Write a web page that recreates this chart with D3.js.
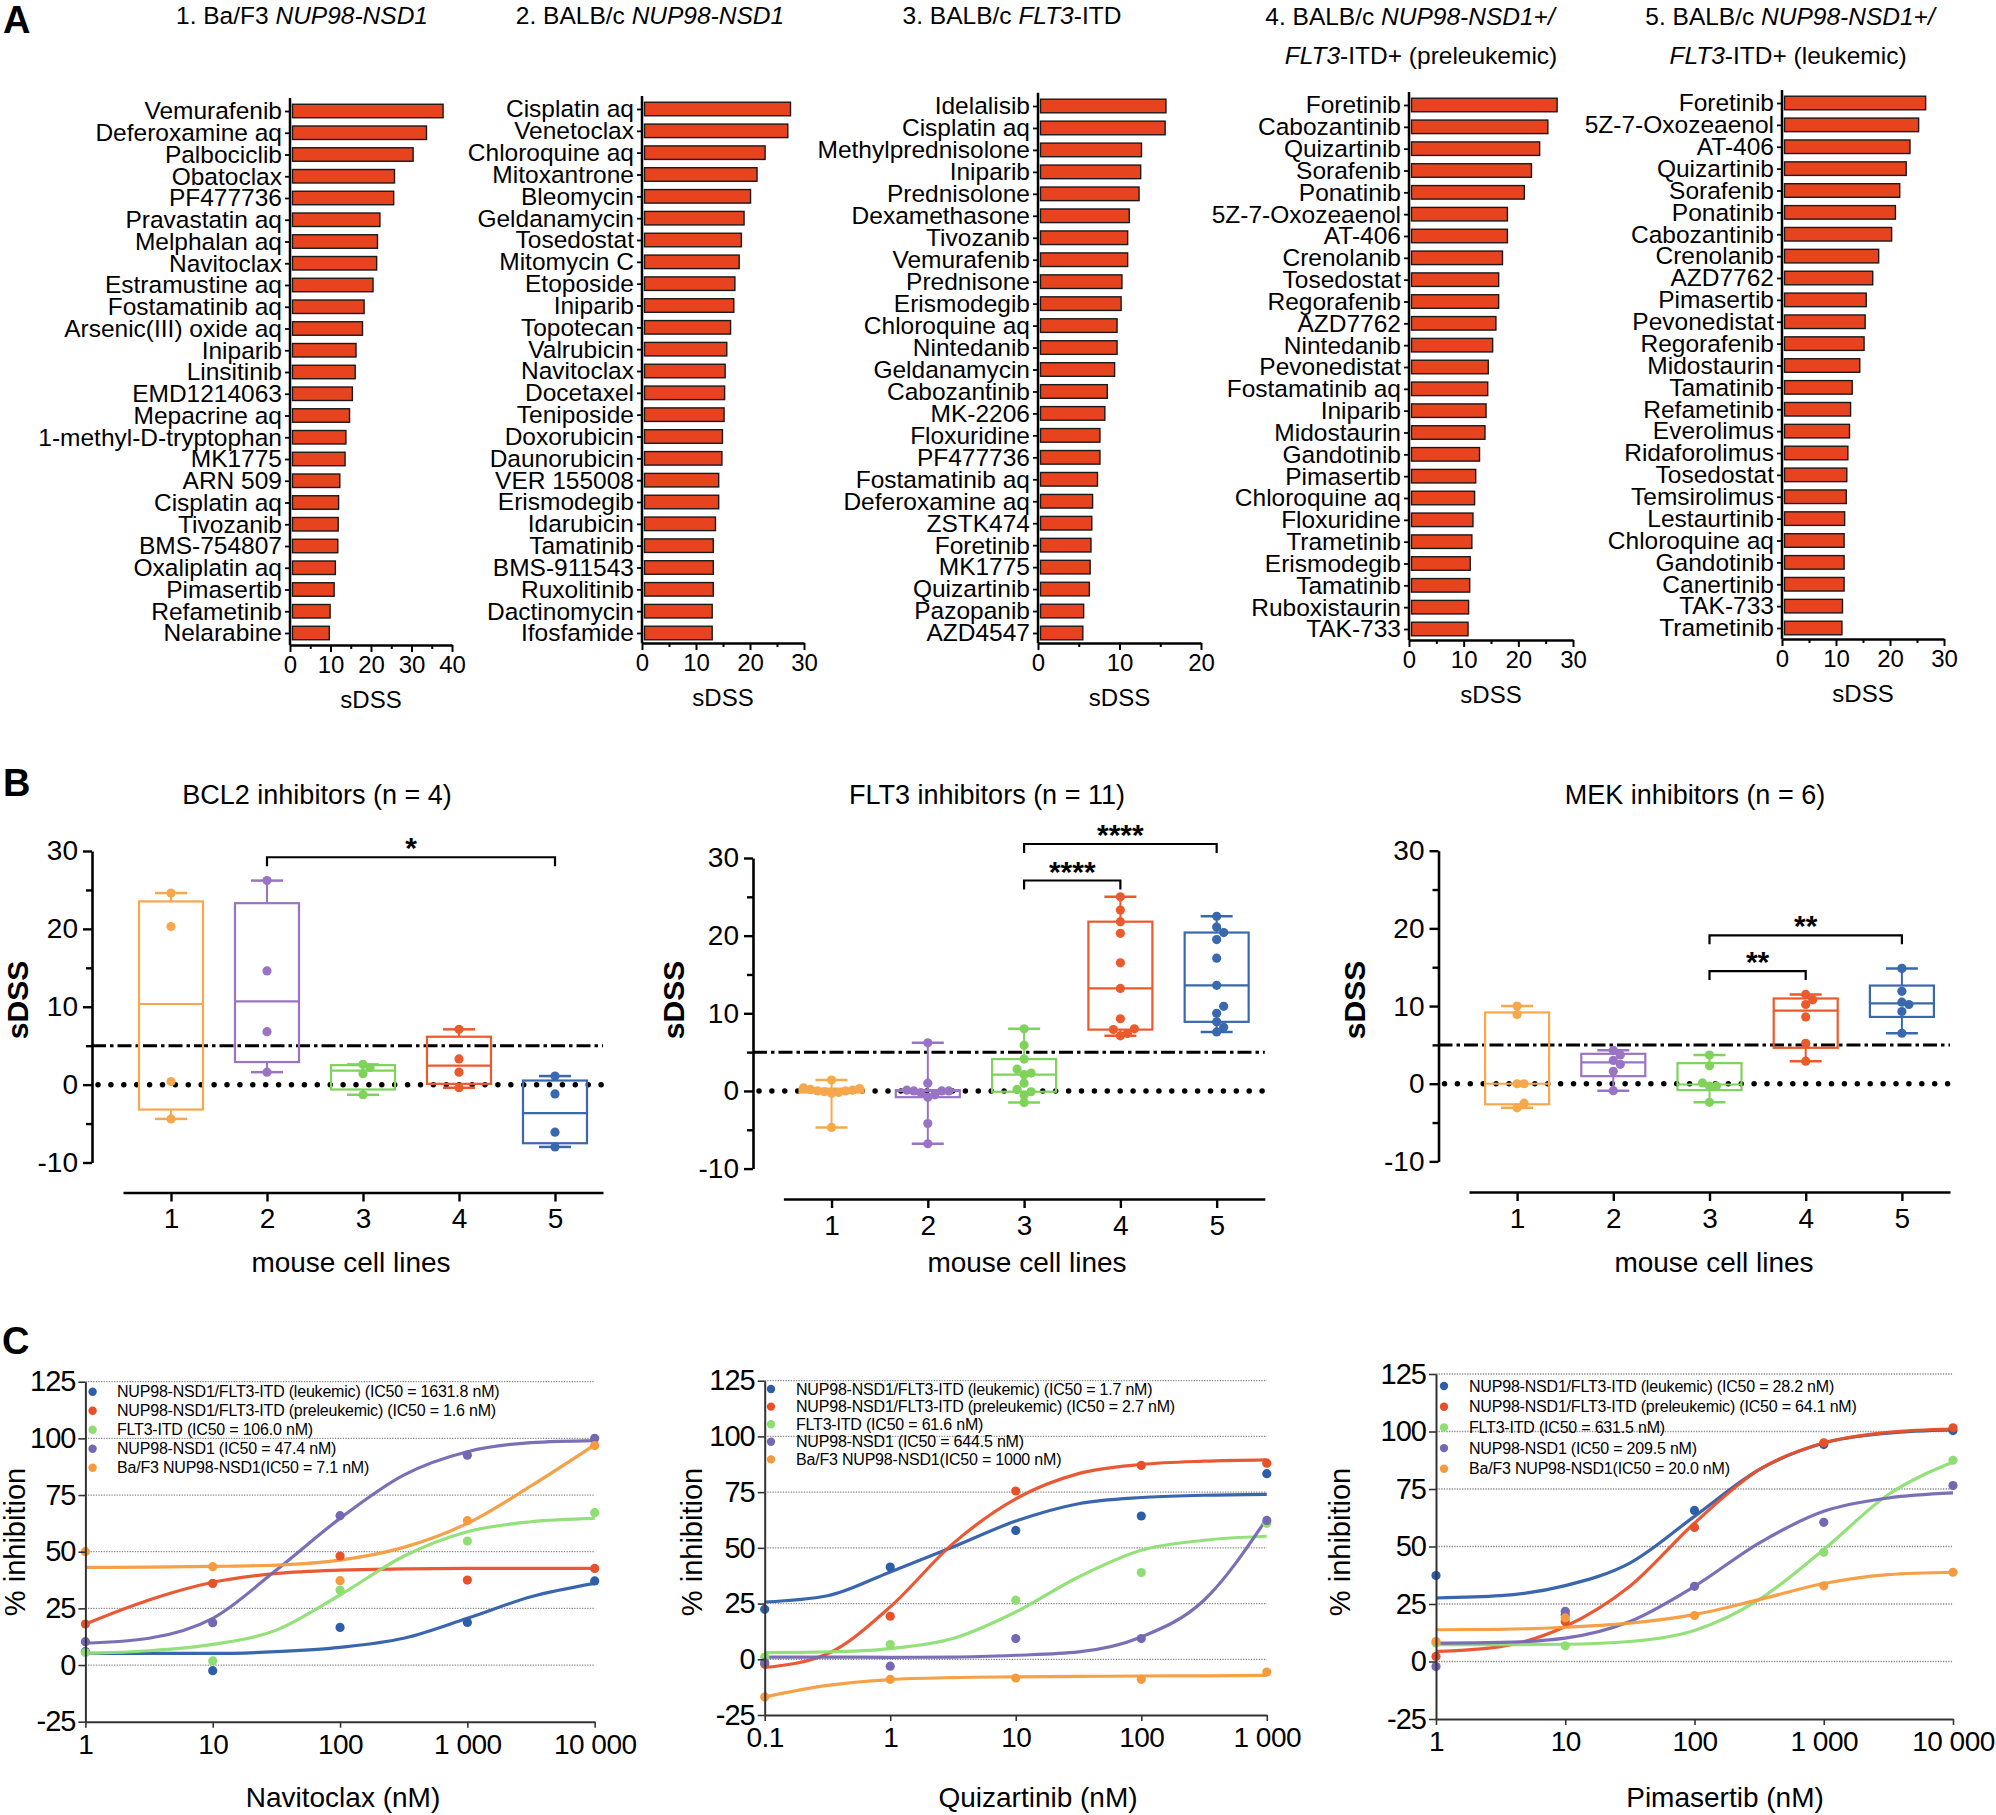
<!DOCTYPE html>
<html>
<head>
<meta charset="utf-8">
<script src="https://cdn.jsdelivr.net/npm/d3@7"></script>
<style>
  body { margin: 0; background: #fff; }
  svg { display: block; font-family: 'Liberation Sans', Arial, Helvetica, sans-serif; }
</style>
</head>
<body>
<svg width="1996" height="1815"></svg>
<script>
// ---------- panel A: top 25 drugs per cell line (sDSS) ----------
const drugsBaF3 = ['Vemurafenib', 'Deferoxamine aq', 'Palbociclib', 'Obatoclax', 'PF477736', 'Pravastatin aq',
  'Melphalan aq', 'Navitoclax', 'Estramustine aq', 'Fostamatinib aq', 'Arsenic(III) oxide aq', 'Iniparib',
  'Linsitinib', 'EMD1214063', 'Mepacrine aq', '1-methyl-D-tryptophan', 'MK1775', 'ARN 509', 'Cisplatin aq',
  'Tivozanib', 'BMS-754807', 'Oxaliplatin aq', 'Pimasertib', 'Refametinib', 'Nelarabine'];
const sdssBaF3 = [37.8, 33.7, 30.4, 25.8, 25.6, 22.2, 21.6, 21.4, 20.5, 18.3, 17.9, 16.3, 16.1, 15.4, 14.7,
  13.8, 13.6, 12.3, 12.0, 11.9, 11.8, 11.2, 10.9, 9.9, 9.7];

const drugsBalbNup = ['Cisplatin aq', 'Venetoclax', 'Chloroquine aq', 'Mitoxantrone', 'Bleomycin', 'Geldanamycin',
  'Tosedostat', 'Mitomycin C', 'Etoposide', 'Iniparib', 'Topotecan', 'Valrubicin', 'Navitoclax', 'Docetaxel',
  'Teniposide', 'Doxorubicin', 'Daunorubicin', 'VER 155008', 'Erismodegib', 'Idarubicin', 'Tamatinib',
  'BMS-911543', 'Ruxolitinib', 'Dactinomycin', 'Ifosfamide'];
const sdssBalbNup = [27.5, 27.0, 22.8, 21.3, 20.1, 18.9, 18.4, 18.0, 17.2, 17.0, 16.4, 15.7, 15.4, 15.3, 15.2,
  14.9, 14.8, 14.2, 14.2, 13.6, 13.2, 13.2, 13.2, 13.0, 13.0];

const drugsFlt3 = ['Idelalisib', 'Cisplatin aq', 'Methylprednisolone', 'Iniparib', 'Prednisolone', 'Dexamethasone',
  'Tivozanib', 'Vemurafenib', 'Prednisone', 'Erismodegib', 'Chloroquine aq', 'Nintedanib', 'Geldanamycin',
  'Cabozantinib', 'MK-2206', 'Floxuridine', 'PF477736', 'Fostamatinib aq', 'Deferoxamine aq', 'ZSTK474',
  'Foretinib', 'MK1775', 'Quizartinib', 'Pazopanib', 'AZD4547'];
const sdssFlt3 = [15.7, 15.6, 12.7, 12.6, 12.4, 11.2, 11.0, 11.0, 10.3, 10.2, 9.7, 9.7, 9.4, 8.5, 8.2, 7.6, 7.6,
  7.3, 6.7, 6.6, 6.5, 6.4, 6.3, 5.6, 5.5];

const drugsPreleuk = ['Foretinib', 'Cabozantinib', 'Quizartinib', 'Sorafenib', 'Ponatinib', '5Z-7-Oxozeaenol',
  'AT-406', 'Crenolanib', 'Tosedostat', 'Regorafenib', 'AZD7762', 'Nintedanib', 'Pevonedistat', 'Fostamatinib aq',
  'Iniparib', 'Midostaurin', 'Gandotinib', 'Pimasertib', 'Chloroquine aq', 'Floxuridine', 'Trametinib',
  'Erismodegib', 'Tamatinib', 'Ruboxistaurin', 'TAK-733'];
const sdssPreleuk = [27.1, 25.4, 23.9, 22.4, 21.1, 18.0, 18.0, 17.1, 16.4, 16.4, 15.9, 15.3, 14.5, 14.4, 14.1,
  13.9, 12.9, 12.2, 12.0, 11.7, 11.5, 11.2, 11.1, 10.9, 10.8];

const drugsLeuk = ['Foretinib', '5Z-7-Oxozeaenol', 'AT-406', 'Quizartinib', 'Sorafenib', 'Ponatinib', 'Cabozantinib',
  'Crenolanib', 'AZD7762', 'Pimasertib', 'Pevonedistat', 'Regorafenib', 'Midostaurin', 'Tamatinib', 'Refametinib',
  'Everolimus', 'Ridaforolimus', 'Tosedostat', 'Temsirolimus', 'Lestaurtinib', 'Chloroquine aq', 'Gandotinib',
  'Canertinib', 'TAK-733', 'Trametinib'];
const sdssLeuk = [26.6, 25.3, 23.7, 23.0, 21.8, 21.0, 20.3, 17.9, 16.8, 15.6, 15.4, 15.2, 14.4, 13.0, 12.7, 12.5,
  12.2, 12.0, 11.9, 11.6, 11.5, 11.5, 11.5, 11.2, 11.1];

// ---------- panel B: sDSS per drug class, cell lines 1..5 ----------
const cellLines = [1, 2, 3, 4, 5];
const bcl2Values = [
  [24.6, 20.3, 0.4, -4.4],
  [26.2, 14.6, 6.8, 1.6],
  [2.6, 2.2, 1.4, -1.3],
  [7.1, 3.3, 1.6, -0.4],
  [1.1, -1.2, -6.1, -8.0]
];
const flt3Values = [
  [-4.7, -0.3, -0.2, -0.1, 0, 0, 0.1, 0.2, 0.3, 0.4, 1.4],
  [-6.8, -4.2, -0.8, -0.5, -0.2, 0, 0, 0, 0.1, 1.0, 6.2],
  [-1.5, -0.55, -0.1, 0.2, 1.0, 2.1, 2.3, 2.8, 4.1, 5.9, 8.0],
  [7.1, 7.4, 7.9, 8.0, 9.3, 13.2, 16.5, 20.3, 21.8, 23.3, 25.0],
  [7.6, 8.2, 8.9, 10.0, 10.9, 13.6, 17.1, 19.5, 20.4, 21.1, 22.5]
];
const mekValues = [
  [-3.1, -2.5, 0, 0, 8.9, 10.0],
  [-0.9, 1.6, 2.5, 3.0, 3.7, 4.3],
  [-2.4, -0.3, -0.3, 0.1, 2.3, 3.7],
  [2.9, 5.2, 8.6, 10.2, 10.8, 11.5],
  [6.5, 9.3, 10.2, 10.5, 11.9, 14.85]
];
// significance brackets: [from line, to line, bracket level (sDSS), stars]
const bcl2Sig = [[2, 5, 29.2, '*']];
const flt3Sig = [[3, 4, 27.1, '****'], [3, 5, 31.8, '****']];
const mekSig = [[3, 4, 14.5, '**'], [3, 5, 19.1, '**']];

// ---------- panel C: dose response ----------
const seriesLabels = ['NUP98-NSD1/FLT3-ITD (leukemic) ', 'NUP98-NSD1/FLT3-ITD (preleukemic) ', 'FLT3-ITD ',
  'NUP98-NSD1 ', 'Ba/F3 NUP98-NSD1'];
const dosesNavitoclax = [1, 10, 100, 1000, 10000];
const ic50Navitoclax = ['1631.8', '1.6', '106.0', '47.4', '7.1'];
const pointsNavitoclax = [
  [5.9, -2.5, 16.6, 18.8, 37.1],
  [18.1, 36.0, 48.1, 37.5, 42.6],
  [5.5, 1.8, 33.1, 54.7, 67.2],
  [10.3, 18.7, 65.9, 92.6, 100],
  [50, 43.4, 37.2, 63.7, 96.8]
];
const fitDosesNavitoclax = [1, 3.16, 10, 31.6, 100, 316, 1000, 3162, 10000];
const fitNavitoclax = [
  [5.1, 5.1, 5.1, 5.9, 7.8, 11.8, 20.6, 30.1, 36.0],
  [18.1, 28.7, 36.5, 40.4, 41.9, 42.4, 42.6, 42.6, 42.6],
  [5.1, 6.3, 9.1, 15.4, 30.9, 48.0, 58.8, 63.2, 64.7],
  [9.6, 11.8, 20.6, 41.9, 64.7, 83.8, 94.1, 98.1, 99.0],
  [43.1, 43.2, 43.5, 44.1, 46.3, 51.9, 62.5, 79.0, 97.1]
];

const dosesQuizartinib = [0.1, 1, 10, 100, 1000];
const ic50Quizartinib = ['1.7', '2.7', '61.6', '644.5', '1000'];
const pointsQuizartinib = [
  [22.4, 41.4, 57.8, 64.3, 83.3],
  [-2.2, 19.3, 75.5, 87.0, 88.0],
  [1.0, 6.6, 26.5, 38.9, 61.0],
  [-1.5, -3.1, 9.3, 9.3, 62.3],
  [-16.9, -9.0, -8.4, -9.0, -5.7]
];
const fitDosesQuizartinib = [0.1, 0.316, 1, 3.16, 10, 31.6, 100, 316, 1000];
const fitQuizartinib = [
  [25.7, 28.5, 39.2, 50.4, 62.0, 69.8, 72.6, 73.6, 74.0],
  [-3.7, 2.5, 23.5, 51.9, 72.0, 83.3, 87.4, 88.9, 89.5],
  [3.0, 3.3, 4.8, 9.3, 21.2, 36.9, 48.9, 53.4, 55.2],
  [1.0, 1.0, 0.9, 1.0, 1.8, 3.3, 10.0, 26.5, 63.1],
  [-16.9, -11.7, -9.1, -8.2, -7.9, -7.7, -7.5, -7.4, -7.2]
];

const dosesPimasertib = [1, 10, 100, 1000, 10000];
const ic50Pimasertib = ['28.2', '64.1', '631.5', '209.5', '20.0'];
const pointsPimasertib = [
  [37.4, 20.3, 65.7, 94.3, 100.4],
  [2.2, 17.4, 58.3, 95.1, 101.6],
  [8.0, 6.8, null, 47.5, 87.5],
  [-2.2, 21.8, 32.7, 60.5, 76.5],
  [8.7, 19.0, 20.0, 32.9, 38.8]
];
const fitDosesPimasertib = [1, 3.16, 10, 31.6, 100, 316, 1000, 3162, 10000];
const fitPimasertib = [
  [27.6, 28.6, 33.0, 42.8, 63.1, 83.4, 95.0, 99.3, 100.7],
  [4.4, 6.5, 15.2, 32.7, 60.2, 83.4, 95.0, 99.6, 101.0],
  [7.3, 7.3, 7.5, 8.7, 13.5, 26.9, 48.7, 72.6, 86.7],
  [8.0, 8.3, 10.2, 17.4, 32.7, 51.5, 65.3, 71.1, 73.3],
  [13.8, 14.0, 14.9, 16.7, 20.4, 26.9, 33.9, 37.8, 38.8]
];

const svg = d3.select('svg');

// panel letters
[['A', 3, 33], ['B', 3, 796], ['C', 2, 1354]].forEach(([t, x, y]) => {
  svg.append('text').text(t).attr('x', x).attr('y', y)
    .attr('font-size', 38).attr('font-weight', 'bold');
});

// ================= A =================
const barColor = '#e8431f';
const barPanels = [
  { names: drugsBaF3, values: sdssBaF3, max: 40, x0: 290, len: 162, first: 111, last: 633, axisY: 645,
    title: [[['1. Ba/F3 ', 0], ['NUP98-NSD1', 1]]], titleX: [302], titleY: [24] },
  { names: drugsBalbNup, values: sdssBalbNup, max: 30, x0: 642, len: 162, first: 109, last: 633, axisY: 643,
    title: [[['2. BALB/c ', 0], ['NUP98-NSD1', 1]]], titleX: [650], titleY: [24] },
  { names: drugsFlt3, values: sdssFlt3, max: 20, x0: 1038, len: 163, first: 106, last: 633, axisY: 643,
    title: [[['3. BALB/c ', 0], ['FLT3', 1], ['-ITD', 0]]], titleX: [1012], titleY: [24] },
  { names: drugsPreleuk, values: sdssPreleuk, max: 30, x0: 1409, len: 164, first: 105, last: 629, axisY: 640,
    title: [[['4. BALB/c ', 0], ['NUP98-NSD1+/', 1]], [['FLT3', 1], ['-ITD+ (preleukemic)', 0]]],
    titleX: [1410, 1421], titleY: [25, 64] },
  { names: drugsLeuk, values: sdssLeuk, max: 30, x0: 1782, len: 162, first: 103, last: 628, axisY: 639,
    title: [[['5. BALB/c ', 0], ['NUP98-NSD1+/', 1]], [['FLT3', 1], ['-ITD+ (leukemic)', 0]]],
    titleX: [1790, 1788], titleY: [25, 64] }
];

barPanels.forEach(p => {
  const g = svg.append('g');
  const x = d3.scaleLinear().domain([0, p.max]).range([p.x0, p.x0 + p.len]);
  const y = d3.scalePoint().domain(p.names).range([p.first, p.last]);
  const bh = y.step() * 0.62;

  g.selectAll('rect').data(p.names).join('rect')
    .attr('x', x(0) + 2.5)
    .attr('y', d => y(d) - bh / 2)
    .attr('width', (d, i) => x(p.values[i]) - x(0) - 2.5)
    .attr('height', bh)
    .attr('fill', barColor)
    .attr('stroke', '#1a1a1a')
    .attr('stroke-width', 1.4);

  const yAxis = g.append('g')
    .attr('transform', `translate(${x(0)},0)`)
    .call(d3.axisLeft(y).tickSize(5).tickPadding(3).tickSizeOuter(0));
  yAxis.select('.domain').remove();
  yAxis.selectAll('line').attr('stroke-width', 1.8);
  yAxis.selectAll('text').attr('font-size', 24.5).attr('font-family', null).attr('fill', '#000');
  g.append('line').attr('x1', x(0)).attr('x2', x(0))
    .attr('y1', p.first - y.step() * 0.6).attr('y2', p.axisY)
    .attr('stroke', '#000').attr('stroke-width', 2.5);

  const xAxis = g.append('g')
    .attr('transform', `translate(0,${p.axisY})`)
    .call(d3.axisBottom(x).tickValues(d3.range(0, p.max + 1, 10)).tickSize(7).tickSizeOuter(0).tickPadding(4));
  xAxis.select('.domain').attr('stroke-width', 2.5);
  xAxis.selectAll('line').attr('stroke-width', 2);
  xAxis.selectAll('text').attr('font-size', 24).attr('font-family', null);
  g.append('g')
    .attr('transform', `translate(0,${p.axisY})`)
    .call(d3.axisBottom(x).tickValues(d3.range(5, p.max, 10)).tickSize(4).tickFormat(''))
    .call(s => s.select('.domain').remove())
    .selectAll('line').attr('stroke-width', 2);

  g.append('text').text('sDSS')
    .attr('x', x(p.max / 2)).attr('y', p.axisY + 63)
    .attr('text-anchor', 'middle').attr('font-size', 24);

  p.title.forEach((line, li) => {
    const t = g.append('text').attr('x', p.titleX[li]).attr('y', p.titleY[li])
      .attr('text-anchor', 'middle').attr('font-size', 24.5);
    line.forEach(([s, it]) => t.append('tspan').text(s).attr('font-style', it ? 'italic' : null));
  });
});

// ================= B =================
const groupColors = ['#f7a84c', '#9a74c4', '#7fd35b', '#ea5a2c', '#3a68ae'];

// GraphPad-style quartile, position (n + 1) * p
function quart(sorted, p) {
  const n = sorted.length;
  const pos = (n + 1) * p;
  if (pos <= 1) return sorted[0];
  if (pos >= n) return sorted[n - 1];
  const lo = Math.floor(pos);
  return sorted[lo - 1] + (pos - lo) * (sorted[lo] - sorted[lo - 1]);
}

// spread points that would overlap at the same height
function dodge(vals, y, minDist) {
  const placed = [];
  return vals.map(v => {
    const py = y(v);
    for (let k = 0; k < 40; k++) {
      const off = k === 0 ? 0 : (k % 2 ? 1 : -1) * Math.ceil(k / 2) * minDist;
      if (placed.every(q => Math.hypot(q[0] - off, q[1] - py) >= minDist)) {
        placed.push([off, py]);
        return off;
      }
    }
    return 0;
  });
}

const boxPanels = [
  { title: 'BCL2 inhibitors (n = 4)', data: bcl2Values, sig: bcl2Sig, axisX: 92, yRange: [1162.5, 851],
    xRange: [123, 603], lineY: 1192.5, titleX: 317, mouseX: 351, sdssX: 18 },
  { title: 'FLT3 inhibitors (n = 11)', data: flt3Values, sig: flt3Sig, axisX: 753, yRange: [1168.6, 858],
    xRange: [783.4, 1264.8], lineY: 1199, titleX: 987, mouseX: 1027, sdssX: 674 },
  { title: 'MEK inhibitors (n = 6)', data: mekValues, sig: mekSig, axisX: 1438.5, yRange: [1161.4, 850.7],
    xRange: [1469, 1950], lineY: 1192, titleX: 1695, mouseX: 1714, sdssX: 1354.5 }
];

boxPanels.forEach(p => {
  const g = svg.append('g');
  const y = d3.scaleLinear().domain([-10, 30]).range(p.yRange);
  const x = d3.scaleLinear().domain([0.5, 5.5]).range(p.xRange);
  const boxW = 64, capW = 32;

  // reference lines (sDSS = 5 dash-dot, 0 dotted)
  g.append('line').attr('x1', p.axisX).attr('x2', p.xRange[1]).attr('y1', y(5)).attr('y2', y(5))
    .attr('stroke', '#000').attr('stroke-width', 3).attr('stroke-dasharray', '14,4,3.5,4');
  g.append('line').attr('x1', p.axisX + 6).attr('x2', p.xRange[1]).attr('y1', y(0)).attr('y2', y(0))
    .attr('stroke', '#000').attr('stroke-width', 5.5).attr('stroke-linecap', 'round')
    .attr('stroke-dasharray', '0,12.9');

  cellLines.forEach((c, i) => {
    const vals = p.data[i].slice().sort(d3.ascending);
    const q1 = quart(vals, 0.25), med = quart(vals, 0.5), q3 = quart(vals, 0.75);
    const lo = vals[0], hi = vals[vals.length - 1];
    const cx = x(c), col = groupColors[i];
    const b = g.append('g').attr('stroke', col).attr('fill', 'none');
    b.append('line').attr('x1', cx).attr('x2', cx).attr('y1', y(q3)).attr('y2', y(hi)).attr('stroke-width', 2);
    b.append('line').attr('x1', cx).attr('x2', cx).attr('y1', y(q1)).attr('y2', y(lo)).attr('stroke-width', 2);
    b.append('line').attr('x1', cx - capW / 2).attr('x2', cx + capW / 2).attr('y1', y(hi)).attr('y2', y(hi)).attr('stroke-width', 2.5);
    b.append('line').attr('x1', cx - capW / 2).attr('x2', cx + capW / 2).attr('y1', y(lo)).attr('y2', y(lo)).attr('stroke-width', 2.5);
    b.append('rect').attr('x', cx - boxW / 2).attr('width', boxW)
      .attr('y', y(q3)).attr('height', Math.max(y(q1) - y(q3), 1)).attr('stroke-width', 2.2);
    b.append('line').attr('x1', cx - boxW / 2).attr('x2', cx + boxW / 2).attr('y1', y(med)).attr('y2', y(med)).attr('stroke-width', 2.2);
    const offs = dodge(vals, y, 7);
    g.selectAll(null).data(vals).join('circle')
      .attr('cx', (d, j) => cx + offs[j]).attr('cy', d => y(d)).attr('r', 4.6).attr('fill', col);
  });

  // y axis
  const ya = g.append('g').attr('transform', `translate(${p.axisX},0)`)
    .call(d3.axisLeft(y).tickValues([-10, 0, 10, 20, 30]).tickSize(9).tickSizeOuter(0).tickPadding(5).tickFormat(d => String(d)));
  ya.select('.domain').attr('stroke-width', 2.6);
  ya.selectAll('line').attr('stroke-width', 2.4);
  ya.selectAll('text').attr('font-size', 28).attr('font-family', null);
  g.append('g').attr('transform', `translate(${p.axisX},0)`)
    .call(d3.axisLeft(y).tickValues([-5, 5, 15, 25]).tickSize(6).tickFormat(''))
    .call(s => s.select('.domain').remove())
    .selectAll('line').attr('stroke-width', 2.4);

  // x axis
  const xa = g.append('g').attr('transform', `translate(0,${p.lineY})`)
    .call(d3.axisBottom(x).tickValues(cellLines).tickSize(9).tickSizeOuter(0).tickPadding(7)
      .tickFormat(d => String(d)));
  xa.select('.domain').attr('stroke-width', 2.6);
  xa.selectAll('line').attr('stroke-width', 2.4);
  xa.selectAll('text').attr('font-size', 28).attr('font-family', null);

  // significance brackets
  p.sig.forEach(([a, bb, lvl, stars]) => {
    const yy = y(lvl);
    g.append('path')
      .attr('d', `M${x(a)},${yy + 9}V${yy}H${x(bb)}V${yy + 9}`)
      .attr('fill', 'none').attr('stroke', '#000').attr('stroke-width', 2.2);
    g.append('text').text(stars).attr('x', (x(a) + x(bb)) / 2).attr('y', yy + 1)
      .attr('text-anchor', 'middle').attr('font-size', 30).attr('font-weight', 'bold');
  });

  g.append('text').text(p.title).attr('x', p.titleX).attr('y', 804)
    .attr('text-anchor', 'middle').attr('font-size', 27);
  g.append('text').text('mouse cell lines').attr('x', p.mouseX).attr('y', 1272)
    .attr('text-anchor', 'middle').attr('font-size', 28);
  g.append('text').text('sDSS')
    .attr('transform', `translate(${p.sdssX + 10},1000) rotate(-90)`)
    .attr('text-anchor', 'middle').attr('font-size', 30).attr('font-weight', 'bold');
});

// ================= C =================
const curveColors = ['#2e5ea8', '#e9502a', '#8ede73', '#7468b4', '#f59b3d'];
const fmtDose = d => (d >= 1000 ? d3.format(',')(d).replace(/,/g, ' ') : String(d));

const dosePanels = [
  { xLabel: 'Navitoclax (nM)', doses: dosesNavitoclax, pts: pointsNavitoclax, fitX: fitDosesNavitoclax,
    fit: fitNavitoclax, ic50: ic50Navitoclax, xRange: [85.4, 594.7], yRange: [1721.7, 1381.7],
    xTitleX: 343, yTitleX: 15, legDot: 92.6, legText: 117, legY: 1391.7, legDy: 19 },
  { xLabel: 'Quizartinib (nM)', doses: dosesQuizartinib, pts: pointsQuizartinib, fitX: fitDosesQuizartinib,
    fit: fitQuizartinib, ic50: ic50Quizartinib, xRange: [764.7, 1266.8], yRange: [1715, 1380.7],
    xTitleX: 1038, yTitleX: 692, legDot: 771, legText: 796, legY: 1389, legDy: 17.6 },
  { xLabel: 'Pimasertib (nM)', doses: dosesPimasertib, pts: pointsPimasertib, fitX: fitDosesPimasertib,
    fit: fitPimasertib, ic50: ic50Pimasertib, xRange: [1436, 1953], yRange: [1719, 1374],
    xTitleX: 1725, yTitleX: 1340, legDot: 1444, legText: 1469, legY: 1386, legDy: 20.7 }
];

dosePanels.forEach(p => {
  const g = svg.append('g');
  const x = d3.scaleLog().domain([p.doses[0], p.doses[p.doses.length - 1]]).range(p.xRange);
  const y = d3.scaleLinear().domain([-25, 125]).range(p.yRange);

  // dotted gridlines
  g.selectAll(null).data([0, 25, 50, 75, 100, 125]).join('line')
    .attr('x1', p.xRange[0]).attr('x2', p.xRange[1]).attr('y1', d => y(d)).attr('y2', d => y(d))
    .attr('stroke', '#8a8a8a').attr('stroke-width', 1.3).attr('stroke-dasharray', '1.3,1.3');

  const line = d3.line().x((d, i) => x(p.fitX[i])).y(d => y(d)).curve(d3.curveMonotoneX);
  p.fit.forEach((s, k) => {
    g.append('path').attr('d', line(s)).attr('fill', 'none')
      .attr('stroke', curveColors[k]).attr('stroke-width', 3.2).attr('stroke-opacity', 0.95);
  });
  p.pts.forEach((s, k) => {
    g.selectAll(null).data(s.map((v, i) => [p.doses[i], v]).filter(d => d[1] !== null)).join('circle')
      .attr('cx', d => x(d[0])).attr('cy', d => y(d[1])).attr('r', 4.6).attr('fill', curveColors[k]);
  });

  const ya = g.append('g').attr('transform', `translate(${p.xRange[0]},0)`)
    .call(d3.axisLeft(y).tickValues([-25, 0, 25, 50, 75, 100, 125]).tickSize(7).tickSizeOuter(0)
      .tickPadding(3).tickFormat(d => String(d)));
  ya.select('.domain').attr('stroke', '#333').attr('stroke-width', 2);
  ya.selectAll('line').attr('stroke', '#333').attr('stroke-width', 1.6);
  ya.selectAll('text').attr('font-size', 29).attr('font-family', null).attr('letter-spacing', -1);

  const xa = g.append('g').attr('transform', `translate(0,${p.yRange[0]})`)
    .call(d3.axisBottom(x).tickValues(p.doses).tickSize(6).tickSizeOuter(0).tickPadding(6).tickFormat(fmtDose));
  xa.select('.domain').attr('stroke', '#333').attr('stroke-width', 2);
  xa.selectAll('line').attr('stroke', '#333').attr('stroke-width', 1.6);
  xa.selectAll('text').attr('font-size', 28).attr('font-family', null).attr('letter-spacing', -0.5);

  g.append('text').text(p.xLabel).attr('x', p.xTitleX).attr('y', 1807)
    .attr('text-anchor', 'middle').attr('font-size', 28);
  g.append('text').text('% inhibition')
    .attr('transform', `translate(${p.yTitleX + 10},1542) rotate(-90)`)
    .attr('text-anchor', 'middle').attr('font-size', 29);

  seriesLabels.forEach((lab, k) => {
    const ly = p.legY + k * p.legDy;
    g.append('circle').attr('cx', p.legDot).attr('cy', ly).attr('r', 4.2).attr('fill', curveColors[k]);
    g.append('text').text(`${lab}(IC50 = ${p.ic50[k]} nM)`).attr('x', p.legText).attr('y', ly)
      .attr('dy', '0.35em').attr('font-size', 16).attr('letter-spacing', -0.2);
  });
});
</script>
</body>
</html>
